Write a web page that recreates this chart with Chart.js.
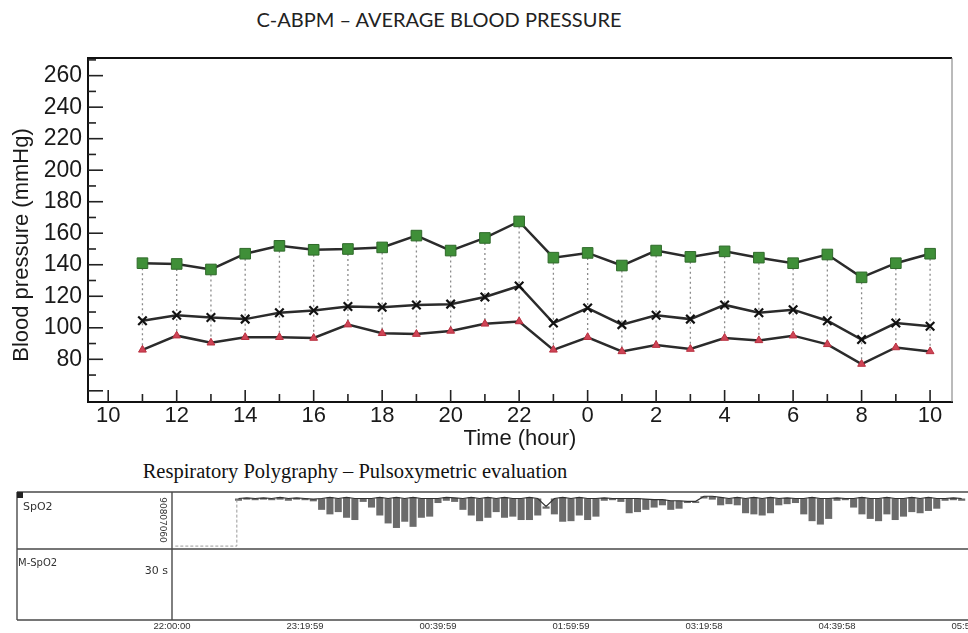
<!DOCTYPE html>
<html>
<head>
<meta charset="utf-8">
<script src="https://cdn.jsdelivr.net/npm/chart.js@4.4.1/dist/chart.umd.min.js"></script>
<style>
  body { margin: 0; background: #fff; overflow: hidden; width: 968px; height: 633px; position: relative; }
  #title { position: absolute; left: 0; top: 7px; width: 878px; text-align: center; font: 20px Lato, "Open Sans", sans-serif; color: #222; }
  #subtitle { position: absolute; left: 0; top: 460px; width: 710px; text-align: center; font: 20.5px "Liberation Serif", "Times New Roman", serif; color: #111; }
  #bpChart { position: absolute; left: 0; top: 0; }
  #spo2Chart { position: absolute; left: 0; top: 485px; }
</style>
</head>
<body>
<div id="title">C-ABPM – AVERAGE BLOOD PRESSURE</div>
<canvas id="bpChart" width="968" height="454"></canvas>
<div id="subtitle">Respiratory Polygraphy – Pulsoxymetric evaluation</div>
<canvas id="spo2Chart" width="1000" height="148"></canvas>
<script>
// hour of day, counted on past midnight (24 = 0h, 34 = 10h next day)
const hours = [11, 12, 13, 14, 15, 16, 17, 18, 19, 20, 21, 22, 23, 24, 25, 26, 27, 28, 29, 30, 31, 32, 33, 34];
const systolic = [141, 140.5, 137, 147, 152, 149.5, 150, 151, 158.5, 149, 157, 167.5, 144.5, 147.5, 139.5, 149, 145, 148.5, 144.5, 141, 146.5, 132, 141, 147];
const meanBP = [104.5, 108, 106.5, 105.5, 109.5, 111, 113.5, 113, 114.5, 115, 119.5, 126.5, 103, 112.5, 102, 108, 105.5, 114.5, 109.5, 111.5, 104.5, 92.5, 103, 101];
const diastolic = [86, 95, 90.5, 94, 94, 93.5, 102, 96.5, 96, 98, 102.5, 104, 86, 94, 85, 89, 86.5, 93.5, 92, 95, 89.5, 77, 87.5, 85];
const yTitle = 'Blood pressure (mmHg)';

// polygraphy: minutes after 22:00:00
const timeTicks = [0, 80, 160, 240, 320, 400, 480];
const timeLabels = ['22:00:00', '23:19:59', '00:39:59', '01:59:59', '03:19:58', '04:39:58', '05:59:58'];
const spo2ScaleLabels = [90, 80, 70, 60];
const preTrace = [{x: 2, y: 52}, {x: 39, y: 52}, {x: 39, y: 94}];
const spo2Minutes = [40, 45, 50, 55, 60, 65, 70, 75, 80, 85, 90, 95, 100, 105, 110, 115, 120, 125, 130, 135,
  140, 145, 150, 155, 160, 165, 170, 175, 180, 185, 190, 195, 200, 205, 210, 215, 220, 225, 230, 235,
  240, 245, 250, 255, 260, 265, 270, 275, 280, 285, 290, 295, 300, 305, 310, 315, 320, 325, 330, 335,
  340, 345, 350, 355, 360, 365, 370, 375, 380, 385, 390, 395, 400, 405, 410, 415, 420, 425, 430, 435,
  440, 445, 450, 455, 460, 465, 470, 475];
const spo2Low = [92, 93, 92.5, 93, 92.5, 93, 92, 93, 92.5, 91.5,
  84, 80, 82, 77, 75, 91, 86, 79, 72, 68,
  73.5, 69, 77, 78, 90, 92, 91, 84, 79, 74,
  77, 82, 77, 78, 75, 75, 79, 85, 80, 73.5,
  74, 79, 75, 78, 92, 92.5, 91, 81, 82, 84,
  86, 88, 84, 85, 90, 90, 94, 93, 88, 89,
  88, 81, 80, 79, 81, 88, 89, 90, 80, 74,
  71, 76, 92, 92.5, 86, 80, 76, 74, 80, 75,
  78, 82, 81, 83, 85, 92, 92.5, 92];
const spo2High = [94, 94.5, 94, 94.5, 94, 95, 94, 94.5, 94, 93.5,
  94, 95, 94, 95, 94, 94, 94, 95, 94, 95,
  94, 95, 94, 94, 94, 95, 94.5, 94, 95, 94,
  95, 94, 95, 94, 94, 95, 94, 87, 94, 95,
  94, 95, 94, 94, 94.5, 94, 94, 94, 94, 93.5,
  93, 93, 92, 92, 91.5, 91.5, 96, 96, 95, 94,
  95, 94, 95, 94, 95, 94, 94.5, 94, 94, 95,
  94, 94, 94.5, 94, 94, 95, 94, 94, 95, 94,
  94, 95, 94, 95, 94, 94, 94.5, 94];

Chart.defaults.font.family = '"Liberation Sans", Arial, sans-serif';
Chart.defaults.color = '#1a1a1a';

// dotted connectors + inner tick marks + box frame + axis title
const bpDecor = {
    id: 'bpDecor',
    beforeDatasetsDraw(chart) {
        const ctx = chart.ctx, xs = chart.scales.x, ys = chart.scales.y;
        ctx.save();
        ctx.strokeStyle = '#8a8a8a';
        ctx.lineWidth = 1.3;
        ctx.setLineDash([2, 3]);
        hours.forEach((h, i) => {
            const x = xs.getPixelForValue(h);
            ctx.beginPath();
            ctx.moveTo(x, ys.getPixelForValue(systolic[i]));
            ctx.lineTo(x, ys.getPixelForValue(diastolic[i]));
            ctx.stroke();
        });
        ctx.restore();
    },
    afterDraw(chart) {
        const ctx = chart.ctx, a = chart.chartArea;
        ctx.save();
        ctx.strokeStyle = '#111';
        ctx.lineWidth = 2;
        ctx.beginPath();
        ctx.moveTo(a.left - 1, a.top);
        ctx.lineTo(a.right, a.top);
        ctx.stroke();
        ctx.strokeStyle = '#777';
        ctx.lineWidth = 1;
        ctx.beginPath();
        ctx.moveTo(a.right, a.top);
        ctx.lineTo(a.right, a.bottom);
        ctx.stroke();
        ctx.strokeStyle = '#222';
        ctx.lineWidth = 1.6;
        chart.scales.y.ticks.forEach(t => {
            const y = chart.scales.y.getPixelForValue(t.value);
            const len = t.value % 20 === 0 ? 15 : 8;
            ctx.beginPath();
            ctx.moveTo(a.left, y);
            ctx.lineTo(a.left + len, y);
            ctx.stroke();
        });
        chart.scales.x.ticks.forEach(t => {
            const x = chart.scales.x.getPixelForValue(t.value);
            const len = t.value % 2 === 0 ? 12 : 8;
            ctx.beginPath();
            ctx.moveTo(x, a.bottom);
            ctx.lineTo(x, a.bottom - len);
            ctx.stroke();
        });
        // y title sits a bit below the plot centre in the original
        ctx.translate(22, (a.top + a.bottom) / 2 + 15);
        ctx.rotate(-Math.PI / 2);
        ctx.fillStyle = '#1a1a1a';
        ctx.font = '22px "Liberation Sans", Arial, sans-serif';
        ctx.textAlign = 'center';
        ctx.textBaseline = 'middle';
        ctx.fillText(yTitle, 0, 0);
        ctx.restore();
    }
};

new Chart(document.getElementById('bpChart'), {
    type: 'line',
    data: {
        datasets: [
            {
                label: 'Systolic',
                data: hours.map((h, i) => ({x: h, y: systolic[i]})),
                borderColor: '#2b2b2b',
                borderWidth: 2.5,
                pointStyle: 'rect',
                pointRadius: 7.5,
                pointBackgroundColor: '#3f8f38',
                pointBorderColor: '#2f6a2a',
                pointBorderWidth: 1
            },
            {
                label: 'Mean',
                data: hours.map((h, i) => ({x: h, y: meanBP[i]})),
                borderColor: '#2b2b2b',
                borderWidth: 2.5,
                pointStyle: 'crossRot',
                pointRadius: 6,
                pointBorderColor: '#111',
                pointBorderWidth: 2.2
            },
            {
                label: 'Diastolic',
                data: hours.map((h, i) => ({x: h, y: diastolic[i]})),
                borderColor: '#2b2b2b',
                borderWidth: 2.5,
                pointStyle: 'triangle',
                pointRadius: 4.5,
                pointBackgroundColor: '#cf4456',
                pointBorderColor: '#b8303f',
                pointBorderWidth: 1
            }
        ]
    },
    options: {
        responsive: false,
        animation: false,
        events: [],
        layout: { padding: { top: 58, right: 16, left: 0, bottom: 0 } },
        plugins: { legend: { display: false }, tooltip: { enabled: false } },
        scales: {
            x: {
                type: 'linear',
                min: 9.41,
                max: 34.64,
                afterFit: s => { s.height = 52; },
                grid: { display: false, drawTicks: false },
                border: { display: true, color: '#111', width: 2 },
                ticks: {
                    stepSize: 1,
                    includeBounds: false,
                    autoSkip: false,
                    maxRotation: 0,
                    padding: 1,
                    font: { size: 22 },
                    callback: v => (v % 2 === 0 ? String(v % 24) : '')
                },
                title: { display: true, text: 'Time (hour)', font: { size: 22 }, padding: { top: 0, bottom: 2 } }
            },
            y: {
                min: 52.9,
                max: 271.2,
                afterFit: s => { s.width = 88; },
                grid: { display: false, drawTicks: false },
                border: { display: true, color: '#111', width: 2 },
                ticks: {
                    stepSize: 10,
                    includeBounds: false,
                    autoSkip: false,
                    padding: 6,
                    font: { size: 23 },
                    callback: v => (v % 20 === 0 && v >= 80 ? String(v) : '')
                }
            }
        }
    },
    plugins: [bpDecor]
});

// polygraphy frame, left panel labels
const polyFrame = {
    id: 'polyFrame',
    afterDraw(chart) {
        const ctx = chart.ctx, a = chart.chartArea, ys = chart.scales.y;
        const mid = ys.getPixelForValue(49.4);
        ctx.save();
        ctx.strokeStyle = '#4a4a4a';
        ctx.lineWidth = 1.4;
        ctx.beginPath();
        ctx.moveTo(17, a.top + 2); ctx.lineTo(a.right + 40, a.top + 2);
        ctx.moveTo(17, mid); ctx.lineTo(a.right + 40, mid);
        ctx.moveTo(17, a.bottom); ctx.lineTo(a.right + 40, a.bottom);
        ctx.moveTo(17, a.top + 2); ctx.lineTo(17, a.bottom);
        ctx.moveTo(a.left, a.top + 2); ctx.lineTo(a.left, a.bottom);
        ctx.stroke();
        ctx.fillStyle = '#222';
        ctx.fillRect(17, a.top + 2, 6, 6);
        ctx.fillStyle = '#333';
        ctx.font = '11px "DejaVu Sans", sans-serif';
        ctx.textBaseline = 'middle';
        ctx.textAlign = 'left';
        ctx.fillText('SpO2', 23, a.top + 17);
        ctx.font = '10px "DejaVu Sans", sans-serif';
        ctx.fillText('M-SpO2', 18, mid + 14);
        ctx.textAlign = 'right';
        ctx.font = '11px "DejaVu Sans", sans-serif';
        ctx.fillText('30 s', a.left - 4, mid + 22);
        ctx.font = '9px "DejaVu Sans", sans-serif';
        ctx.textAlign = 'center';
        spo2ScaleLabels.forEach(v => {
            ctx.save();
            ctx.translate(a.left - 10, ys.getPixelForValue(v));
            ctx.rotate(Math.PI / 2);
            ctx.fillText(String(v), 0, 0);
            ctx.restore();
        });
        ctx.restore();
    }
};

new Chart(document.getElementById('spo2Chart'), {
    type: 'bar',
    data: {
        datasets: [
            {
                type: 'line',
                data: preTrace,
                borderColor: '#9a9a9a',
                borderWidth: 1,
                borderDash: [3, 2],
                pointRadius: 0
            },
            {
                type: 'line',
                data: spo2Minutes.map((m, i) => ({x: m, y: spo2High[i]})),
                borderColor: '#333',
                borderWidth: 1.2,
                pointRadius: 0
            },
            {
                type: 'bar',
                data: spo2Minutes.map((m, i) => ({x: m, y: [spo2Low[i], spo2High[i]]})),
                backgroundColor: 'rgba(50,50,50,0.72)',
                barPercentage: 0.85,
                categoryPercentage: 1
            }
        ]
    },
    options: {
        responsive: false,
        animation: false,
        events: [],
        layout: { padding: { top: 5, left: 172, right: 30, bottom: 0 } },
        plugins: { legend: { display: false }, tooltip: { enabled: false } },
        scales: {
            x: {
                type: 'linear',
                offset: false,
                min: 0,
                max: 480,
                afterFit: s => { s.height = 13; },
                afterBuildTicks: s => { s.ticks = timeTicks.map(v => ({value: v})); },
                grid: { display: false, drawTicks: false },
                border: { display: false },
                ticks: {
                    autoSkip: false,
                    maxRotation: 0,
                    padding: 1,
                    color: '#333',
                    font: { size: 9.5 },
                    callback: (v, i) => timeLabels[i]
                }
            },
            y: {
                display: false,
                min: -13.2,
                max: 101.5
            }
        }
    },
    plugins: [polyFrame]
});
</script>
</body>
</html>
